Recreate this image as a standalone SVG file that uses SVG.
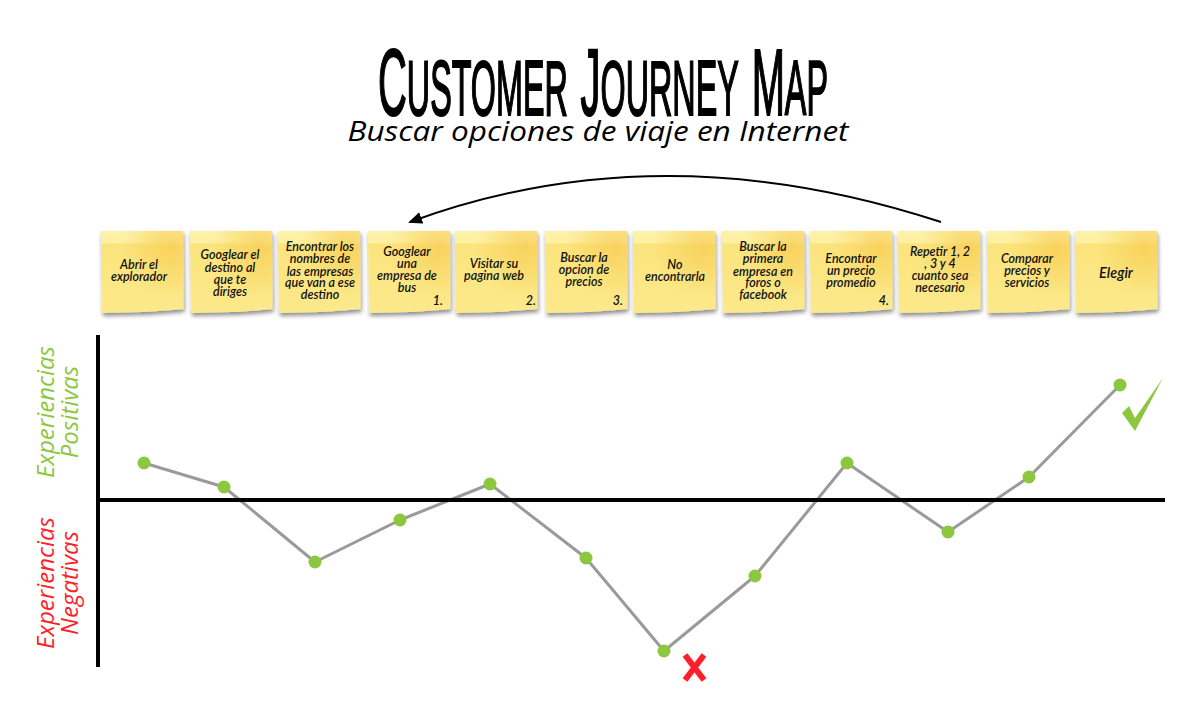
<svg xmlns="http://www.w3.org/2000/svg" width="1197" height="701" viewBox="0 0 1197 701">
<style>
.note-text{font-family:Lato,"Open Sans","Liberation Sans",sans-serif;font-style:italic;font-weight:600;font-size:12.5px;fill:#111;text-anchor:middle}
.num{font-family:Lato,"Open Sans","Liberation Sans",sans-serif;font-style:italic;font-weight:600;font-size:12.5px;fill:#111;text-anchor:end}
.axis{stroke:#000;stroke-width:4;fill:none}
.journey{stroke:#9a9a9a;stroke-width:3;fill:none;stroke-linejoin:round}
.pt{fill:#8dc63f}
.side{font-family:"Open Sans","Noto Sans",sans-serif;font-style:italic;font-weight:400;font-size:24px;text-anchor:middle}
</style>
<defs>
<linearGradient id="paper" x1="0" y1="0" x2="0" y2="1">
<stop offset="0" stop-color="#fdf2ab"/>
<stop offset="0.14" stop-color="#fdf0a3"/>
<stop offset="0.16" stop-color="#fbe47c"/>
<stop offset="1" stop-color="#fce98c"/>
</linearGradient>
<radialGradient id="tint" cx="0.85" cy="0.2" r="0.6">
<stop offset="0" stop-color="#f8cc52" stop-opacity="0.75"/>
<stop offset="1" stop-color="#f8cc52" stop-opacity="0"/>
</radialGradient>
<filter id="shadow" x="-20%" y="-20%" width="140%" height="150%">
<feDropShadow dx="1" dy="3" stdDeviation="2" flood-color="#000" flood-opacity="0.45"/>
</filter>
<g id="note">
<path d="M0,0 L82,0 L82.5,78 Q60,80 41,81 L1,82 Z" fill="url(#paper)" filter="url(#shadow)"/>
<path d="M0,0 L82,0 L82.5,78 Q60,80 41,81 L1,82 Z" fill="url(#tint)"/>
</g>
<marker id="ah" markerWidth="14" markerHeight="12" refX="12" refY="6" orient="auto" markerUnits="userSpaceOnUse">
<path d="M0,0 L14,6 L0,12 Z" fill="#000"/>
</marker>
</defs>

<g id="title">
<text transform="translate(378,115) scale(0.42,1)" x="0" y="0" font-family="'Liberation Sans',Arial,sans-serif" font-size="95" fill="#000" stroke="#000" stroke-width="2">C<tspan font-size="110" font-variant="small-caps">ustomer </tspan>J<tspan font-size="110" font-variant="small-caps">ourney </tspan>M<tspan font-size="110" font-variant="small-caps">ap</tspan></text>
<text x="598" y="141" text-anchor="middle" textLength="501" lengthAdjust="spacingAndGlyphs" font-family="'Open Sans','Noto Sans',sans-serif" font-style="italic" font-size="28" fill="#000">Buscar opciones de viaje en Internet</text>
</g>

<g id="connectors">
<path d="M941,222 Q660,130 410,222" fill="none" stroke="#000" stroke-width="2" marker-end="url(#ah)"/>
<polyline class="journey" points="144,463 224,487 315,562 400,520 490,484 586,558 664,651 755,576 847,463 948,532 1029,477 1120,385"/>
</g>

<g id="axes">
<line class="axis" x1="98" y1="335" x2="98" y2="667"/>
<line class="axis" x1="96" y1="500" x2="1165" y2="500"/>
<text class="side" fill="#8dc63f" transform="translate(54,412) rotate(-90)">Experiencias</text>
<text class="side" fill="#8dc63f" transform="translate(78,412) rotate(-90)">Positivas</text>
<text class="side" fill="#ff1f2a" transform="translate(54,583) rotate(-90)">Experiencias</text>
<text class="side" fill="#ff1f2a" transform="translate(78,583) rotate(-90)">Negativas</text>
</g>

<g id="note1"><use href="#note" x="101" y="231"/><text class="note-text"><tspan x="139" y="269">Abrir el</tspan><tspan x="139" y="281">explorador</tspan></text></g>
<g id="note2"><use href="#note" x="190" y="231"/><text class="note-text"><tspan x="230" y="259">Googlear el</tspan><tspan x="230" y="272">destino al</tspan><tspan x="230" y="284">que te</tspan><tspan x="230" y="296">diriges</tspan></text></g>
<g id="note3"><use href="#note" x="278" y="231"/><text class="note-text"><tspan x="320" y="251">Encontrar los</tspan><tspan x="320" y="263">nombres de</tspan><tspan x="320" y="276">las empresas</tspan><tspan x="320" y="287">que van a ese</tspan><tspan x="320" y="299">destino</tspan></text></g>
<g id="note4"><use href="#note" x="368" y="231"/><text class="note-text"><tspan x="407" y="256">Googlear</tspan><tspan x="407" y="268">una</tspan><tspan x="407" y="280">empresa de</tspan><tspan x="407" y="292">bus</tspan></text><text class="num" x="443" y="305">1.</text></g>
<g id="note5"><use href="#note" x="455" y="231"/><text class="note-text"><tspan x="494" y="268">Visitar su</tspan><tspan x="494" y="280">pagina web</tspan></text><text class="num" x="536" y="305">2.</text></g>
<g id="note6"><use href="#note" x="545" y="231"/><text class="note-text"><tspan x="584" y="262">Buscar la</tspan><tspan x="584" y="274">opcion de</tspan><tspan x="584" y="286">precios</tspan></text><text class="num" x="623" y="305">3.</text></g>
<g id="note7"><use href="#note" x="633" y="231"/><text class="note-text"><tspan x="675" y="269">No</tspan><tspan x="675" y="281">encontrarla</tspan></text></g>
<g id="note8"><use href="#note" x="722" y="231"/><text class="note-text"><tspan x="763" y="251">Buscar la</tspan><tspan x="763" y="263">primera</tspan><tspan x="763" y="276">empresa en</tspan><tspan x="763" y="287">foros o</tspan><tspan x="763" y="299">facebook</tspan></text></g>
<g id="note9"><use href="#note" x="810" y="231"/><text class="note-text"><tspan x="851" y="263">Encontrar</tspan><tspan x="851" y="275">un precio</tspan><tspan x="851" y="287">promedio</tspan></text><text class="num" x="889" y="305">4.</text></g>
<g id="note10"><use href="#note" x="898" y="231"/><text class="note-text"><tspan x="940" y="256">Repetir 1, 2</tspan><tspan x="940" y="268">, 3 y 4</tspan><tspan x="940" y="280">cuanto sea</tspan><tspan x="940" y="292">necesario</tspan></text></g>
<g id="note11"><use href="#note" x="987" y="231"/><text class="note-text"><tspan x="1027" y="263">Comparar</tspan><tspan x="1027" y="275">precios y</tspan><tspan x="1027" y="287">servicios</tspan></text></g>
<g id="note12"><use href="#note" x="1075" y="231"/><text class="note-text" style="font-size:14.5px"><tspan x="1116" y="278">Elegir</tspan></text></g>

<g id="points">
<circle class="pt" cx="144" cy="463" r="6.5"/>
<circle class="pt" cx="224" cy="487" r="6.5"/>
<circle class="pt" cx="315" cy="562" r="6.5"/>
<circle class="pt" cx="400" cy="520" r="6.5"/>
<circle class="pt" cx="490" cy="484" r="6.5"/>
<circle class="pt" cx="586" cy="558" r="6.5"/>
<circle class="pt" cx="664" cy="651" r="6.5"/>
<circle class="pt" cx="755" cy="576" r="6.5"/>
<circle class="pt" cx="847" cy="463" r="6.5"/>
<circle class="pt" cx="948" cy="532" r="6.5"/>
<circle class="pt" cx="1029" cy="477" r="6.5"/>
<circle class="pt" cx="1120" cy="385" r="6.5"/>
</g>

<g id="check">
<path d="M1122,413 L1129,406 L1135,418 L1163,378 L1135,431 Z" fill="#8dc63f"/>
</g>
<g id="cross">
<path d="M685,655 L704,680 M704,655 L685,680" stroke="#ff1f2a" stroke-width="6" fill="none"/>
</g>
</svg>
